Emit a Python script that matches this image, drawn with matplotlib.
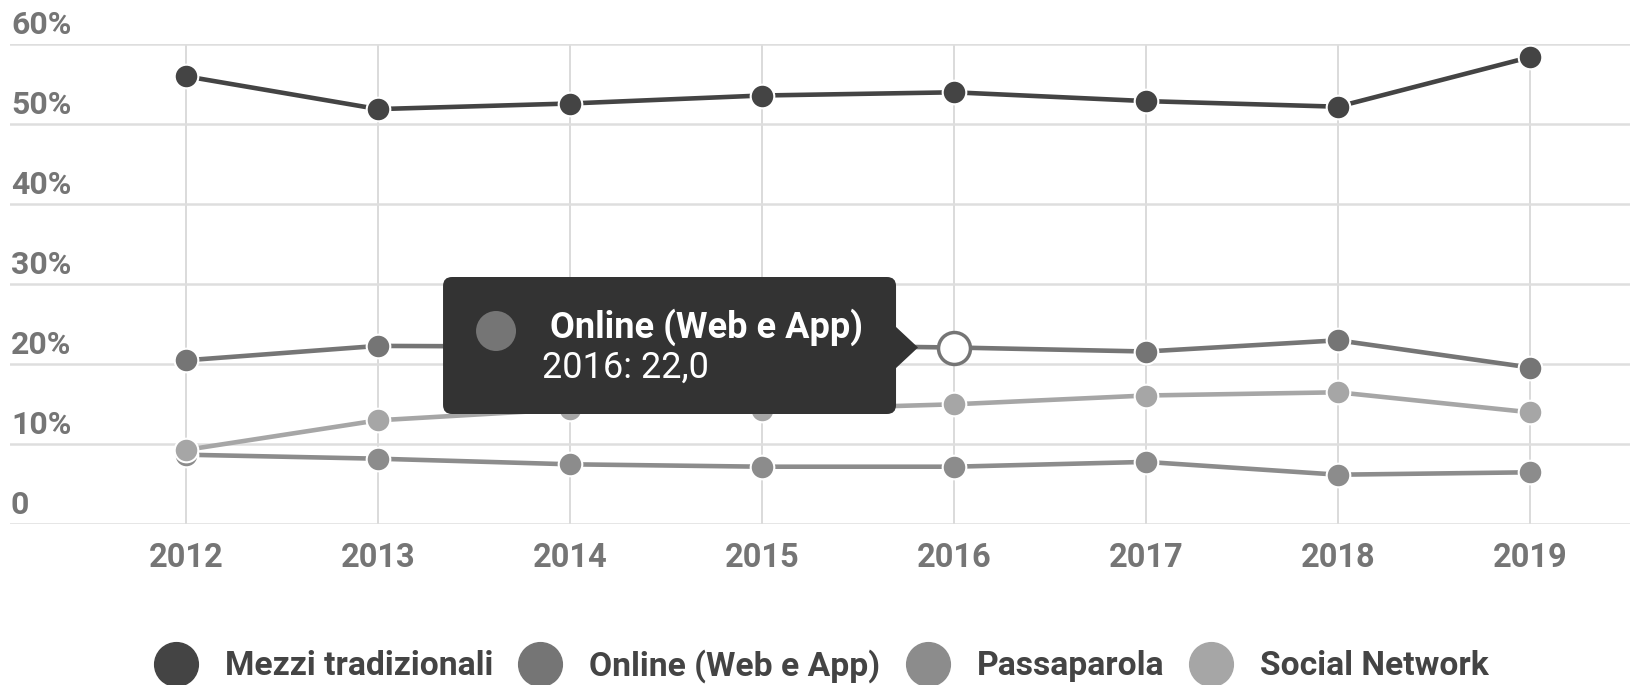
import matplotlib.pyplot as plt
import matplotlib.transforms as mtransforms
from matplotlib.lines import Line2D
from matplotlib.patches import FancyBboxPatch, Polygon, Circle

years = [2012, 2013, 2014, 2015, 2016, 2017, 2018, 2019]
mezzi = [55.9, 51.8, 52.5, 53.5, 53.9, 52.8, 52.1, 58.3]
online = [20.4, 22.2, 22.1, 22.3, 22.0, 21.5, 22.9, 19.5]
passaparola = [8.6, 8.1, 7.4, 7.1, 7.1, 7.7, 6.1, 6.4]
social = [9.2, 12.9, 14.3, 14.2, 14.9, 16.0, 16.4, 13.9]

series_names = ['Mezzi tradizionali', 'Online (Web e App)', 'Passaparola', 'Social Network']
colors = ['#444444', '#757575', '#8c8c8c', '#a6a6a6']
y_ticks = [0, 10, 20, 30, 40, 50, 60]
y_labels = ['0', '10%', '20%', '30%', '40%', '50%', '60%']

# hovered point shown in the tooltip
hover_idx = 4
tooltip_title = 'Online (Web e App)'
tooltip_value = '2016: 22,0'

plt.rcParams['font.family'] = ['Roboto', 'DejaVu Sans']

W, H = 1631, 685
fig = plt.figure(figsize=(W / 100, H / 100), dpi=100)
ax = fig.add_axes([10 / W, (H - 523.5) / H, 1 - 10 / W, 480 / H])

ax.set_xlim(2011.083, 2019.526)
ax.set_ylim(0, 60)
ax.set_xticks(years)
ax.set_yticks(y_ticks)
ax.yaxis.grid(True, color='#dedede', lw=1.8)
ax.xaxis.grid(True, color='#d8d8d8', lw=1.3)
ax.set_axisbelow(True)
for s in ax.spines.values():
    s.set_visible(False)
ax.tick_params(length=0, labelleft=False)
ax.tick_params(axis='x', labelsize=23.5, labelcolor='#757575', pad=13)
for lab in ax.get_xticklabels():
    lab.set_fontweight('bold')

ylab_trans = mtransforms.offset_copy(ax.get_yaxis_transform(), fig, x=1, y=9, units='dots')
for t, lab in zip(y_ticks, y_labels):
    ax.text(0, t, lab, transform=ylab_trans, ha='left', va='baseline',
            fontsize=23, color='#757575', fontweight='bold')

all_series = [mezzi, online, passaparola, social]
for i, (vals, c) in enumerate(zip(all_series, colors)):
    ax.plot(years, vals, color=c, lw=3.3, marker='o', ms=17, mec='white', mew=1.5,
            clip_on=False, zorder=3 + i)

# hover marker
ax.plot(years[hover_idx], online[hover_idx], marker='o', ms=23, mfc='white',
        mec=colors[1], mew=2.5, zorder=10, clip_on=False)

# legend
handles = [Line2D([], [], ls='none', marker='o', ms=31.5, mfc=c, mec=c) for c in colors]
fig.legend(handles, series_names, loc='center', bbox_to_anchor=(821.5 / W, 1 - 666 / H),
           ncol=4, frameon=False, prop={'size': 24.2, 'weight': 'bold'},
           handlelength=1.31, handletextpad=0.8, columnspacing=0.75, borderpad=0,
           labelcolor='#444444')

# tooltip, positioned in pixels from the hovered point
tt = mtransforms.IdentityTransform() + mtransforms.ScaledTranslation(
    years[hover_idx], online[hover_idx], ax.transData)
fig.add_artist(FancyBboxPatch((-511, -66.5), 453, 137,
                              boxstyle='round,pad=0,rounding_size=9',
                              fc='#333333', ec='none', transform=tt, zorder=20))
fig.add_artist(Polygon([(-58.5, 21), (-36, 0), (-58.5, -21)], closed=True,
                       fc='#333333', ec='none', transform=tt, zorder=20))
fig.add_artist(Circle((-458, 16.5), 20, fc=colors[1], ec='none', transform=tt, zorder=21))
fig.text(-404, 20.5, tooltip_title, transform=tt, color='white', fontsize=26,
         fontweight='bold', ha='left', va='center', zorder=22)
fig.text(-412, -20.5, tooltip_value, transform=tt, color='white', fontsize=26,
         ha='left', va='center', zorder=22)

fig.savefig('out.png', dpi=100)
plt.close(fig)
